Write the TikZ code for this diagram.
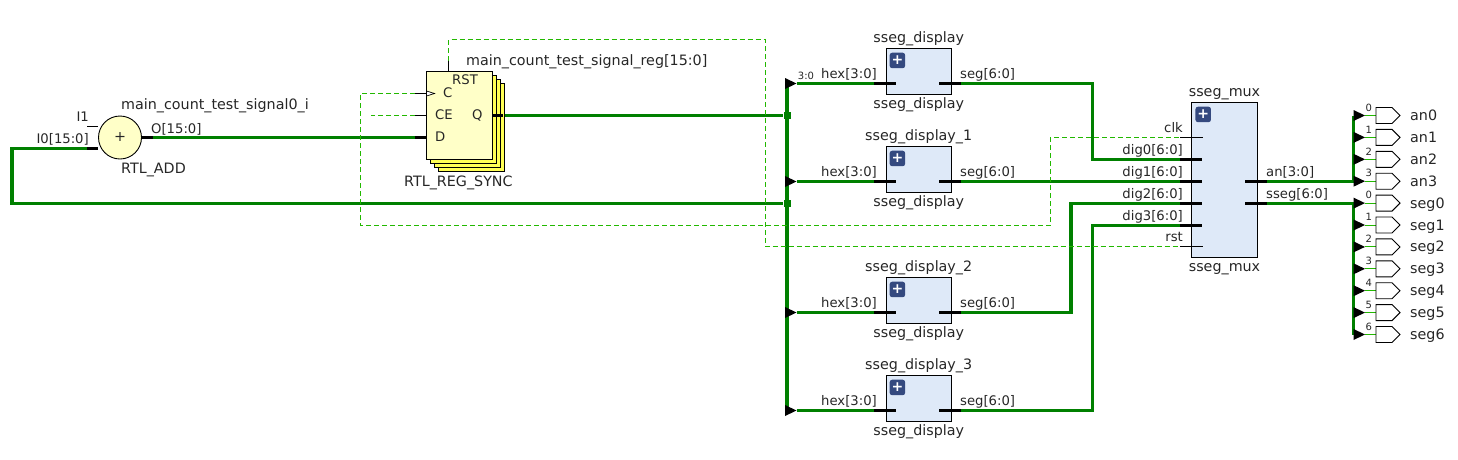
\documentclass[tikz,border=0pt]{standalone}
\usepackage{fontspec}
\setmainfont{DejaVu Sans}
\usetikzlibrary{shapes.geometric, shapes.symbols, positioning, backgrounds, calc}
\definecolor{wiregreen}{HTML}{008000}
\definecolor{netgreen}{HTML}{22B800}
\definecolor{blockblue}{HTML}{DEE9F8}
\definecolor{iconblue}{HTML}{34497F}
\definecolor{primyellow}{HTML}{FFFFC8}
\definecolor{stackyellow}{HTML}{FFFF55}
\definecolor{labelgray}{HTML}{262626}

\begin{document}
\begin{tikzpicture}[
        x=1pt, y=-1pt,
        font=\fontsize{14.3}{16}\selectfont, text=labelgray,
        block/.style={draw=black, fill=blockblue, line width=0.9pt, minimum width=65.5pt, minimum height=46pt, inner sep=0pt, outer sep=0pt},
        regbox/.style={draw=black, line width=0.9pt, minimum width=66pt, minimum height=88pt, inner sep=0pt, outer sep=0pt},
        plusicon/.style={fill=iconblue, rounded corners=2.5pt, minimum size=15.5pt, inner sep=0pt, anchor=north west, text=white, font=\fontsize{14}{14}\selectfont\bfseries},
        buspin/.style={fill=black, minimum width=22pt, minimum height=3.4pt, inner sep=0pt, outer sep=0pt},
        thinpin/.style={fill=black, minimum width=11pt, minimum height=1pt, inner sep=0pt, outer sep=0pt},
        tip/.style={isosceles triangle, isosceles triangle stretches, fill=black, minimum height=11.5pt, minimum width=11pt, inner sep=0pt, outer sep=0pt, anchor=lower side},
        junct/.style={fill=wiregreen, minimum size=7pt, inner sep=0pt},
        port/.style={signal, signal to=east, signal pointer angle=90, draw=black, fill=white, line width=0.9pt, minimum width=24pt, minimum height=16pt, inner sep=0pt, outer sep=0pt},
        portname/.style={inner sep=0pt, text height=10.2pt, text depth=3pt, yshift=-1.4pt, label distance=10pt},
        portidx/.style={inner sep=0pt, font=\fontsize{10}{10}\selectfont, xshift=-3.8pt, yshift=8pt},
        lbl/.style={inner sep=0pt, anchor=base west},
        lblc/.style={inner sep=0pt, anchor=base},
        pinl/.style={inner sep=0pt, anchor=base west, font=\fontsize{13.2}{15}\selectfont},
        pinr/.style={inner sep=0pt, anchor=base east, font=\fontsize{13.2}{15}\selectfont},
        bus/.style={draw=wiregreen, line width=3.3pt},
        net/.style={draw=netgreen, line width=1pt, dash pattern=on 5pt off 3pt},
        thinwire/.style={draw=netgreen, line width=1pt}
    ]
        \useasboundingbox (0,-0.5) rectangle (1458,458.5);

        % Adder
        \node[circle, draw=black, fill=primyellow, line width=0.9pt, minimum size=43pt, inner sep=0pt, outer sep=0pt] (adder) at (120,137) {+};
        \node[buspin, minimum width=11pt] (opin) at (147.5,137) {};
        \node[buspin, minimum width=11pt] (i0pin) at (92.5,148) {};
        \node[thinpin] (i1pin) at (92.5,126) {};
        \node[pinr] (i1lbl) at (89,121) {I1};
        \node[pinr] (i0lbl) at (89,143) {I0[15:0]};
        \node[pinl] (olbl) at (151,132.7) {O[15:0]};
        \node[lbl] (addname) at (121,109) {main\_count\_test\_signal0\_i};
        \node[lbl] (addtype) at (121,172.7) {RTL\_ADD};

        % Register stack
        \node[regbox, fill=stackyellow] (regd) at (471,127) {};
        \node[regbox, fill=stackyellow] (regc) at (467,123) {};
        \node[regbox, fill=stackyellow] (regb) at (463,119) {};
        \node[regbox, fill=primyellow] (rega) at (459,115) {};
        \node[isosceles triangle, isosceles triangle stretches, draw=black, fill=white, line width=0.7pt, minimum height=8pt, minimum width=5pt, inner sep=0pt, outer sep=0pt, anchor=lower side] (clktri) at (426.5,93) {};
        \node[thinpin] (cpin) at (420.5,93) {};
        \node[thinpin] (cepin) at (420.5,115) {};
        \node[buspin, minimum width=11pt] (dpin) at (420.5,137) {};
        \node[buspin, minimum width=11pt] (qpin) at (497.5,115) {};
        \coordinate (rstpin) at (448.5,60);
        \draw[black, line width=1pt] (rstpin) -- (rega.north -| rstpin);
        \node[pinl] (rstlbl) at (452,84) {RST};
        \node[pinl] (clbl) at (443,97.3) {C};
        \node[pinl] (celbl) at (435,119) {CE};
        \node[pinl] (qlbl) at (472,119) {Q};
        \node[pinl] (dlbl) at (435,141) {D};
        \node[lbl] (regname) at (466,65) {main\_count\_test\_signal\_reg[15:0]};
        \node[lbl] (regtype) at (404,186) {RTL\_REG\_SYNC};

        % Display blocks
        \node[block] (dispa) at (918.7,71) {};
        \node[block, below=52pt of dispa] (dispb) {};
        \node[block, below=85pt of dispb] (dispc) {};
        \node[block, below=52pt of dispc] (dispd) {};
        \node[plusicon] (icona) at ([xshift=3.5pt,yshift=-4pt]dispa.north west) {+};
        \node[plusicon] (iconb) at ([xshift=3.5pt,yshift=-4pt]dispb.north west) {+};
        \node[plusicon] (iconc) at ([xshift=3.5pt,yshift=-4pt]dispc.north west) {+};
        \node[plusicon] (icond) at ([xshift=3.5pt,yshift=-4pt]dispd.north west) {+};
        \node[buspin] (hexa) at ([xshift=-0.7pt,yshift=-12pt]dispa.west) {};
        \node[buspin] (hexb) at ([xshift=-0.7pt,yshift=-12pt]dispb.west) {};
        \node[buspin] (hexc) at ([xshift=-0.7pt,yshift=-12pt]dispc.west) {};
        \node[buspin] (hexd) at ([xshift=-0.7pt,yshift=-12pt]dispd.west) {};
        \node[buspin] (sega) at ([xshift=-1.5pt,yshift=-12pt]dispa.east) {};
        \node[buspin] (segb) at ([xshift=-1.5pt,yshift=-12pt]dispb.east) {};
        \node[buspin] (segc) at ([xshift=-1.5pt,yshift=-12pt]dispc.east) {};
        \node[buspin] (segd) at ([xshift=-1.5pt,yshift=-12pt]dispd.east) {};
        \node[tip] (ta) at (785,83) {};
        \node[tip] (tb) at (785,181) {};
        \node[tip] (tc) at (785,312) {};
        \node[tip] (td) at (785,410) {};
        \node[lblc] (namea) at (918.7,42) {sseg\_display};
        \node[lblc] (nameb) at (918.7,140) {sseg\_display\_1};
        \node[lblc] (namec) at (918.7,271) {sseg\_display\_2};
        \node[lblc] (named) at (918.7,369) {sseg\_display\_3};
        \node[lblc] (typea) at (918.7,107.7) {sseg\_display};
        \node[lblc] (typeb) at (918.7,205.7) {sseg\_display};
        \node[lblc] (typec) at (918.7,336.7) {sseg\_display};
        \node[lblc] (typed) at (918.7,434.7) {sseg\_display};
        \node[pinr] (hexalbl) at (877,78.3) {hex[3:0]};
        \node[pinr] (hexblbl) at (877,176.3) {hex[3:0]};
        \node[pinr] (hexclbl) at (877,307.3) {hex[3:0]};
        \node[pinr] (hexdlbl) at (877,405.3) {hex[3:0]};
        \node[pinl] (segalbl) at (960,78.3) {seg[6:0]};
        \node[pinl] (segblbl) at (960,176.3) {seg[6:0]};
        \node[pinl] (segclbl) at (960,307.3) {seg[6:0]};
        \node[pinl] (segdlbl) at (960,405.3) {seg[6:0]};
        \node[lblc, font=\fontsize{10}{10}\selectfont] (slicelbl) at (806,78.5) {3:0};

        % Mux
        \node[block, minimum height=155pt] (mux) at (1224.5,179.5) {};
        \node[plusicon] (iconm) at ([xshift=3.5pt,yshift=-4pt]mux.north west) {+};
        \node[thinpin, minimum width=23pt] (muxclk) at (1191.5,137) {};
        \node[buspin] (dig0) at (1191,159) {};
        \node[buspin] (dig1) at (1191,181) {};
        \node[buspin] (dig2) at (1191,203) {};
        \node[buspin] (dig3) at (1191,225) {};
        \node[thinpin, minimum width=23pt] (muxrst) at (1191.5,246) {};
        \node[buspin] (anpin) at (1256,181) {};
        \node[buspin] (ssegpin) at (1256,203) {};
        \node[lblc] (muxname) at (1224.5,96) {sseg\_mux};
        \node[lblc] (muxtype) at (1224.5,271) {sseg\_mux};
        \node[pinr] (clklbl) at (1183,132) {clk};
        \node[pinr] (dig0lbl) at (1183,154) {dig0[6:0]};
        \node[pinr] (dig1lbl) at (1183,176) {dig1[6:0]};
        \node[pinr] (dig2lbl) at (1183,198) {dig2[6:0]};
        \node[pinr] (dig3lbl) at (1183,220) {dig3[6:0]};
        \node[pinr] (rstmuxlbl) at (1183,241) {rst};
        \node[pinl] (anlbl) at (1266,176) {an[3:0]};
        \node[pinl] (sseglbl) at (1266,198) {sseg[6:0]};

        % Output ports
        \node[port, label={[portname]right:an0}, label={[portidx]left:0}] (pan0) at (1384,115) {};
        \node[port, below=5.9pt of pan0, label={[portname]right:an1}, label={[portidx]left:1}] (pan1) {};
        \node[port, below=5.9pt of pan1, label={[portname]right:an2}, label={[portidx]left:2}] (pan2) {};
        \node[port, below=5.9pt of pan2, label={[portname]right:an3}, label={[portidx]left:3}] (pan3) {};
        \node[port, below=5.9pt of pan3, label={[portname]right:seg0}, label={[portidx]left:0}] (pseg0) {};
        \node[port, below=5.9pt of pseg0, label={[portname]right:seg1}, label={[portidx]left:1}] (pseg1) {};
        \node[port, below=5.9pt of pseg1, label={[portname]right:seg2}, label={[portidx]left:2}] (pseg2) {};
        \node[port, below=5.9pt of pseg2, label={[portname]right:seg3}, label={[portidx]left:3}] (pseg3) {};
        \node[port, below=5.9pt of pseg3, label={[portname]right:seg4}, label={[portidx]left:4}] (pseg4) {};
        \node[port, below=5.9pt of pseg4, label={[portname]right:seg5}, label={[portidx]left:5}] (pseg5) {};
        \node[port, below=5.9pt of pseg5, label={[portname]right:seg6}, label={[portidx]left:6}] (pseg6) {};
        \node[tip] (tan0) at ([xshift=-22.5pt]pan0.west) {};
        \node[tip] (tan1) at ([xshift=-22.5pt]pan1.west) {};
        \node[tip] (tan2) at ([xshift=-22.5pt]pan2.west) {};
        \node[tip] (tan3) at ([xshift=-22.5pt]pan3.west) {};
        \node[tip] (tseg0) at ([xshift=-22.5pt]pseg0.west) {};
        \node[tip] (tseg1) at ([xshift=-22.5pt]pseg1.west) {};
        \node[tip] (tseg2) at ([xshift=-22.5pt]pseg2.west) {};
        \node[tip] (tseg3) at ([xshift=-22.5pt]pseg3.west) {};
        \node[tip] (tseg4) at ([xshift=-22.5pt]pseg4.west) {};
        \node[tip] (tseg5) at ([xshift=-22.5pt]pseg5.west) {};
        \node[tip] (tseg6) at ([xshift=-22.5pt]pseg6.west) {};

        % Junctions and bends
        \node[junct] (ja) at (787,115) {};
        \node[junct] (jb) at (787,203) {};
        \coordinate (loopa) at (12,148);
        \coordinate (benda) at (1092.5,159);
        \coordinate (bendc) at (1071,203);
        \coordinate (bendd) at (1092.5,225);
        \coordinate (clka) at (360.5,93);
        \coordinate (clkb) at (1050,225);
        \coordinate (rstup) at (765,39);
        \coordinate (cefree) at (371,115);

        \begin{scope}[on background layer]
            % Buses
            \draw[bus] (opin.east) -- (dpin.west);
            \draw[bus] (qpin.east) -- (ja);
            \draw[bus] (i0pin.west) -- (loopa) |- (jb);
            \draw[bus] (ja |- ta.lower side) -- (ja |- td.lower side);
            \draw[bus] (ta.apex) -- (hexa.west);
            \draw[bus] (tb.apex) -- (hexb.west);
            \draw[bus] (tc.apex) -- (hexc.west);
            \draw[bus] (td.apex) -- (hexd.west);
            \draw[bus] (sega.east) -| (benda) -- (dig0.west);
            \draw[bus] (segb.east) -- (dig1.west);
            \draw[bus] (segc.east) -| (bendc) -- (dig2.west);
            \draw[bus] (segd.east) -| (bendd) -- (dig3.west);
            \draw[bus] (anpin.east) -- (anpin.east -| tan3.lower side);
            \draw[bus] (ssegpin.east) -- (ssegpin.east -| tseg0.lower side);
            \draw[bus] (tan0.lower side) -- (tan3.lower side);
            \draw[bus] (tseg0.lower side) -- (tseg6.lower side);

            % Dashed nets
            \draw[net] (cpin.west) -- (clka) |- (clkb) |- (muxclk.west);
            \draw[net] (cepin.west) -- (cefree);
            \draw[net] (rstpin) |- (rstup) |- (muxrst.west);

            % Single bits
            \draw[thinwire] (tan0.apex) -- (pan0.west) (tan1.apex) -- (pan1.west) (tan2.apex) -- (pan2.west) (tan3.apex) -- (pan3.west);
            \draw[thinwire] (tseg0.apex) -- (pseg0.west) (tseg1.apex) -- (pseg1.west) (tseg2.apex) -- (pseg2.west) (tseg3.apex) -- (pseg3.west);
            \draw[thinwire] (tseg4.apex) -- (pseg4.west) (tseg5.apex) -- (pseg5.west) (tseg6.apex) -- (pseg6.west);
        \end{scope}
    \end{tikzpicture}
\end{document}
